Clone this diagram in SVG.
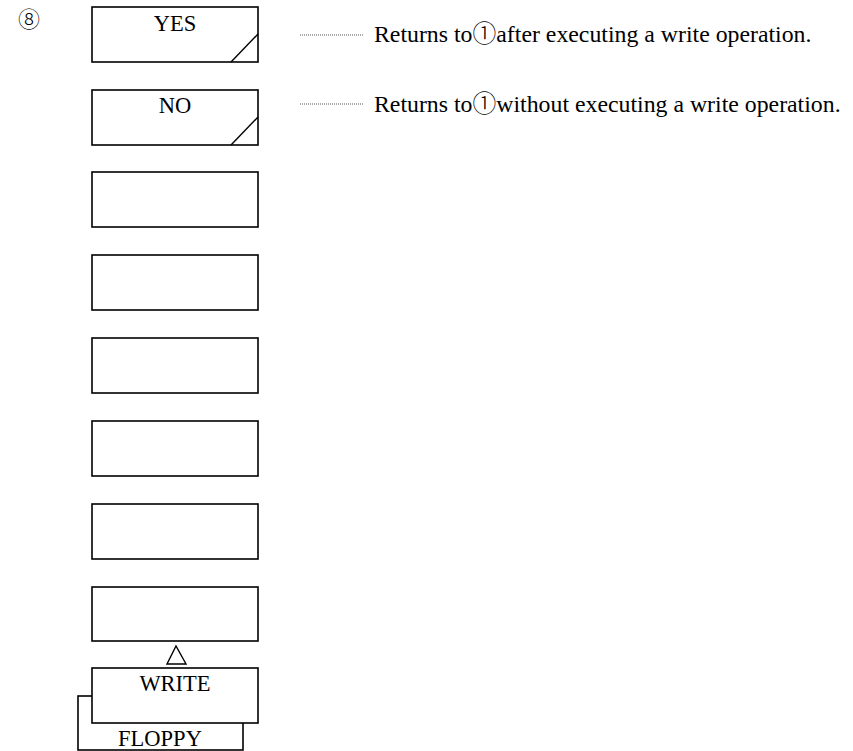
<svg xmlns="http://www.w3.org/2000/svg" width="853" height="751" viewBox="0 0 853 751">
<style>
.box{fill:#fff;stroke:#000;stroke-width:1.6}
.ln{stroke:#000;stroke-width:1.4;fill:none}
.dot{stroke:#555;stroke-width:1;stroke-dasharray:1 1;fill:none}
text{font-family:"Liberation Serif","DejaVu Serif",serif;fill:#000}
.lbl{font-size:22.5px;text-anchor:middle}
.note{font-size:23.8px}
.circ{font-family:"Noto Sans CJK JP","DejaVu Sans",sans-serif;font-weight:300}
</style>
<rect width="853" height="751" fill="#fff"/>
<text class="circ" x="29" y="27" style="font-size:22px" text-anchor="middle">⑧</text>
<g id="node-yes">
<rect class="box" x="92" y="7" width="166" height="55"/>
<line class="ln" x1="258" y1="34" x2="231" y2="62"/>
<text class="lbl" x="175" y="31">YES</text>
</g>
<g id="node-no">
<rect class="box" x="92" y="90" width="166" height="55"/>
<line class="ln" x1="258" y1="117" x2="231" y2="145"/>
<text class="lbl" x="175" y="113">NO</text>
</g>
<g id="node-3"><rect class="box" x="92" y="172" width="166" height="55"/></g>
<g id="node-4"><rect class="box" x="92" y="255" width="166" height="55"/></g>
<g id="node-5"><rect class="box" x="92" y="338" width="166" height="55"/></g>
<g id="node-6"><rect class="box" x="92" y="421" width="166" height="55"/></g>
<g id="node-7"><rect class="box" x="92" y="504" width="166" height="55"/></g>
<g id="node-8"><rect class="box" x="92" y="587" width="166" height="54"/></g>
<g id="node-floppy">
<rect class="box" x="78" y="696" width="165" height="54"/>
<text class="lbl" x="160" y="746">FLOPPY</text>
</g>
<g id="node-write">
<rect class="box" x="92" y="668" width="166" height="55"/>
<text class="lbl" x="175" y="691">WRITE</text>
</g>
<g id="connectors">
<polygon class="ln" points="176,646 167,664 186,664"/>
<line class="dot" x1="300" y1="35" x2="364" y2="35"/>
<line class="dot" x1="300" y1="104" x2="364" y2="104"/>
</g>
<g id="notes">
<text class="note" x="374" y="42">Returns to<tspan class="circ">①</tspan>after executing a write operation.</text>
<text class="note" x="374" y="112">Returns to<tspan class="circ">①</tspan>without executing a write operation.</text>
</g>
</svg>
